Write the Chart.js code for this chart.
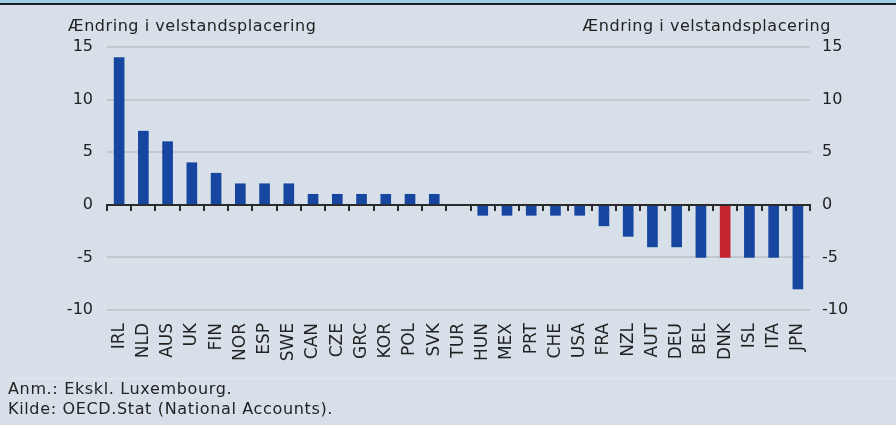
<!DOCTYPE html>
<html>
<head>
<meta charset="utf-8">
<script src="https://cdn.jsdelivr.net/npm/chart.js@4/dist/chart.umd.min.js"></script>
<style>
  html, body { margin: 0; padding: 0; }
  body { width: 896px; height: 425px; background: #d7e0e8; position: relative; overflow: hidden;
         font-family: "DejaVu Sans", Verdana, sans-serif; color: #222; }
  #topA { position: absolute; left: 0; top: 0; width: 896px; height: 3px; background: #9fcde6; }
  #topB { position: absolute; left: 0; top: 3px; width: 896px; height: 2px; background: #1b1d22; }
  #wrap { position: absolute; left: 0; top: 0; width: 896px; height: 425px; }
  .ttl { position: absolute; top: 16px; font-size: 16px; letter-spacing: 0.55px; white-space: nowrap; }
  #sep { position: absolute; left: 8px; right: 0; top: 378px; height: 1px; background: #e2e8ee; }
  .note { position: absolute; left: 8px; font-size: 16px; letter-spacing: 0.65px; white-space: nowrap; }
</style>
</head>
<body>
<div id="wrap"><canvas id="c" width="896" height="425"></canvas></div>
<div id="topA"></div><div id="topB"></div>
<div class="ttl" style="left:68px">Ændring i velstandsplacering</div>
<div class="ttl" style="right:65px">Ændring i velstandsplacering</div>
<div id="sep"></div>
<div class="note" style="top:379px">Anm.: Ekskl. Luxembourg.</div>
<div class="note" style="top:399px">Kilde: OECD.Stat (National Accounts).</div>
<script>
const categories = ["IRL","NLD","AUS","UK","FIN","NOR","ESP","SWE","CAN","CZE","GRC","KOR","POL","SVK","TUR","HUN","MEX","PRT","CHE","USA","FRA","NZL","AUT","DEU","BEL","DNK","ISL","ITA","JPN"];
const values = [14,7,6,4,3,2,2,2,1,1,1,1,1,1,0,-1,-1,-1,-1,-1,-2,-3,-4,-4,-5,-5,-5,-5,-8];
const highlight = "DNK";
const yTicks = [-10,-5,0,5,10,15];

const BLUE = "#1746a0", RED = "#c4262e";
const YFONT = { family: "DejaVu Sans", size: 16 };
const XFONT = { family: "DejaVu Sans", size: 17 };

const zeroAxis = {
  id: "zeroAxis",
  afterDatasetsDraw(chart) {
    const ctx = chart.ctx;
    const area = chart.chartArea;
    const y0 = Math.round(chart.scales.y.getPixelForValue(0));
    const n = categories.length;
    const w = (area.right - area.left) / n;
    ctx.save();
    ctx.fillStyle = "#2b2b2b";
    ctx.fillRect(area.left, y0 - 1, area.right - area.left, 2);
    for (let i = 0; i <= n; i++) {
      const x = Math.round(area.left + i * w);
      ctx.fillRect(x - 1, y0 - 1, 2, 7);
    }
    ctx.restore();
  }
};

new Chart(document.getElementById("c"), {
  type: "bar",
  data: {
    labels: categories,
    datasets: [{
      data: values,
      backgroundColor: categories.map(c => c === highlight ? RED : BLUE),
      barThickness: 10,
      borderWidth: 0
    }]
  },
  options: {
    responsive: false,
    animation: false,
    layout: { padding: { top: 47, left: 0, right: 0, bottom: 0 } },
    plugins: { legend: { display: false }, tooltip: { enabled: false } },
    scales: {
      x: {
        grid: { display: false },
        border: { display: false },
        ticks: { color: "#222", font: XFONT, minRotation: 90, maxRotation: 90, autoSkip: false, padding: 5 },
        afterFit(s) { s.height = 425 - 47 - 263; }
      },
      y: {
        position: "left",
        min: -10, max: 15,
        afterBuildTicks(s) { s.ticks = yTicks.map(v => ({ value: v })); },
        grid: { color: ctx => ctx.tick && ctx.tick.value === 0 ? "rgba(0,0,0,0)" : "#c3c8cd", lineWidth: 2, drawTicks: false },
        border: { display: false },
        ticks: { color: "#222", font: YFONT, padding: 14 },
        afterFit(s) { s.width = 107; }
      },
      y2: {
        position: "right",
        min: -10, max: 15,
        afterBuildTicks(s) { s.ticks = yTicks.map(v => ({ value: v })); },
        grid: { display: false, drawTicks: false },
        border: { display: false },
        ticks: { color: "#222", font: YFONT, padding: 12 },
        afterFit(s) { s.width = 896 - 810; }
      }
    }
  },
  plugins: [zeroAxis]
});
</script>
</body>
</html>
